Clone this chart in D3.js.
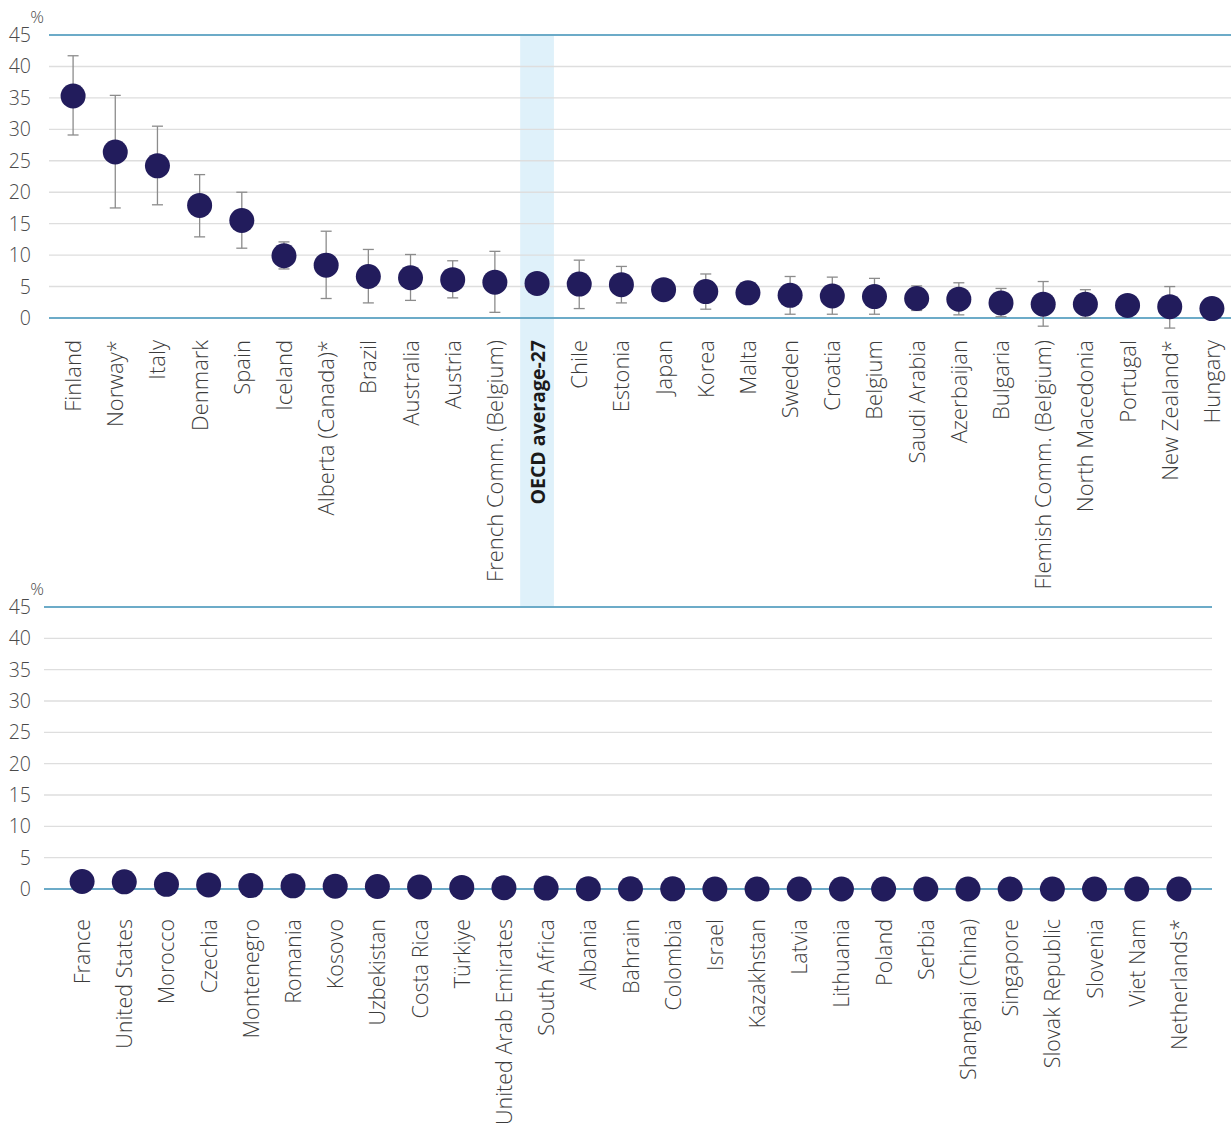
<!DOCTYPE html>
<html>
<head>
<meta charset="utf-8">
<script src="https://cdn.jsdelivr.net/npm/d3@7"></script>
<style>
  body { margin: 0; background: #fff; }
  svg { display: block; font-family: "Open Sans", "Noto Sans", sans-serif; }
</style>
</head>
<body>
<div id="chart"></div>
<script>
// Top panel
const topCountries = ["Finland", "Norway*", "Italy", "Denmark", "Spain", "Iceland", "Alberta (Canada)*",
  "Brazil", "Australia", "Austria", "French Comm. (Belgium)", "OECD average-27", "Chile", "Estonia",
  "Japan", "Korea", "Malta", "Sweden", "Croatia", "Belgium", "Saudi Arabia", "Azerbaijan", "Bulgaria",
  "Flemish Comm. (Belgium)", "North Macedonia", "Portugal", "New Zealand*", "Hungary"];
const topValues = [35.3, 26.4, 24.2, 17.9, 15.5, 9.9, 8.4, 6.6, 6.4, 6.1, 5.7, 5.5, 5.4, 5.3,
  4.5, 4.2, 4.0, 3.6, 3.5, 3.4, 3.1, 3.0, 2.4, 2.2, 2.2, 2.0, 1.8, 1.5];
const topLow = [29.1, 17.5, 18.0, 12.9, 11.1, 7.8, 3.1, 2.4, 2.8, 3.2, 0.9, null, 1.5, 2.4,
  null, 1.4, null, 0.6, 0.6, 0.6, 1.2, 0.5, 0.2, -1.3, 0.0, null, -1.6, null];
const topHigh = [41.7, 35.4, 30.5, 22.8, 20.0, 12.1, 13.8, 10.9, 10.1, 9.1, 10.6, null, 9.2, 8.2,
  null, 7.0, null, 6.6, 6.5, 6.3, 5.1, 5.6, 4.7, 5.8, 4.5, null, 5.0, null];

// Bottom panel
const bottomCountries = ["France", "United States", "Morocco", "Czechia", "Montenegro", "Romania", "Kosovo",
  "Uzbekistan", "Costa Rica", "Türkiye", "United Arab Emirates", "South Africa", "Albania", "Bahrain",
  "Colombia", "Israel", "Kazakhstan", "Latvia", "Lithuania", "Poland", "Serbia", "Shanghai (China)",
  "Singapore", "Slovak Republic", "Slovenia", "Viet Nam", "Netherlands*"];
const bottomValues = [1.2, 1.15, 0.75, 0.65, 0.55, 0.5, 0.45, 0.4, 0.33, 0.25, 0.2, 0.15, 0.05, 0.03,
  0.02, 0, 0, 0, 0, 0, 0, 0, 0, 0, 0, 0, 0];

const yTicks = [0, 5, 10, 15, 20, 25, 30, 35, 40, 45];
const highlight = "OECD average-27";

const W = 1231, H = 1129;
const svg = d3.select("#chart").append("svg").attr("width", W).attr("height", H);

function drawPanel(cfg) {
  const x = d3.scaleBand().domain(cfg.cats).range(cfg.xRange).padding(0);
  const y = d3.scaleLinear().domain([0, 45]).range([cfg.y0, cfg.y45]);
  const g = svg.append("g");

  // highlight column
  if (cfg.cats.includes(highlight)) {
    const bw = x.bandwidth();
    g.append("rect")
      .attr("x", x(highlight) + bw * 0.1)
      .attr("y", y(45))
      .attr("width", bw * 0.8)
      .attr("height", cfg.highlightBottom - y(45))
      .attr("fill", "#dff1fa");
  }

  // gridlines
  g.selectAll(".grid")
    .data(yTicks)
    .join("line")
    .attr("x1", cfg.gridX[0])
    .attr("x2", cfg.gridX[1])
    .attr("y1", d => y(d))
    .attr("y2", d => y(d))
    .attr("stroke", d => (d === 0 || d === 45) ? "#6cabc8" : "#dedede")
    .attr("stroke-width", d => (d === 0 || d === 45) ? 1.8 : 1.4);

  // tick labels
  g.selectAll(".tick-label")
    .data(yTicks)
    .join("text")
    .attr("x", 31)
    .attr("y", d => y(d) + 7)
    .attr("text-anchor", "end")
    .attr("fill", "#4a4a4a")
    .attr("font-weight", 300)
    .attr("font-size", "19.5px")
    .text(d => d);

  g.append("text")
    .attr("x", 37)
    .attr("y", y(45) - 12)
    .attr("text-anchor", "middle")
    .attr("fill", "#4a4a4a")
    .attr("font-weight", 300)
    .attr("font-size", "17px")
    .text("%");

  const data = cfg.cats.map((c, i) => ({
    cat: c,
    v: cfg.vals[i],
    lo: cfg.lo ? cfg.lo[i] : null,
    hi: cfg.hi ? cfg.hi[i] : null
  }));
  const cx = d => x(d.cat) + x.bandwidth() / 2;
  const bars = data.filter(d => d.lo !== null && d.hi !== null);

  // error bars
  g.selectAll(".err")
    .data(bars)
    .join("line")
    .attr("x1", cx).attr("x2", cx)
    .attr("y1", d => y(d.hi)).attr("y2", d => y(d.lo))
    .attr("stroke", "#8c8c8c").attr("stroke-width", 1.3);
  ["hi", "lo"].forEach(k => {
    g.selectAll(".cap-" + k)
      .data(bars)
      .join("line")
      .attr("x1", d => cx(d) - 5.5).attr("x2", d => cx(d) + 5.5)
      .attr("y1", d => y(d[k])).attr("y2", d => y(d[k]))
      .attr("stroke", "#8c8c8c").attr("stroke-width", 1.3);
  });

  // dots
  g.selectAll(".dot")
    .data(data)
    .join("circle")
    .attr("cx", cx)
    .attr("cy", d => y(d.v))
    .attr("r", 12.5)
    .attr("fill", "#221c5c");

  // category labels
  g.selectAll(".cat-label")
    .data(data)
    .join("text")
    .attr("transform", d => `translate(${cx(d) + 8},${cfg.labelTop}) rotate(-90)`)
    .attr("text-anchor", "end")
    .attr("fill", d => d.cat === highlight ? "#1a1a1a" : "#3c3c3c")
    .attr("font-weight", d => d.cat === highlight ? 700 : 300)
    .attr("font-size", d => d.cat === highlight ? "19.5px" : cfg.labelSize)
    .text(d => d.cat);
}

drawPanel({
  cats: topCountries, vals: topValues, lo: topLow, hi: topHigh,
  xRange: [52, 1233], gridX: [49, 1231], y0: 318, y45: 35,
  labelTop: 340, highlightBottom: 607, labelSize: "22px"
});

drawPanel({
  cats: bottomCountries, vals: bottomValues, lo: null, hi: null,
  xRange: [61, 1200], gridX: [44, 1212], y0: 889, y45: 607,
  labelTop: 919, highlightBottom: 607, labelSize: "21.5px"
});
</script>
</body>
</html>
